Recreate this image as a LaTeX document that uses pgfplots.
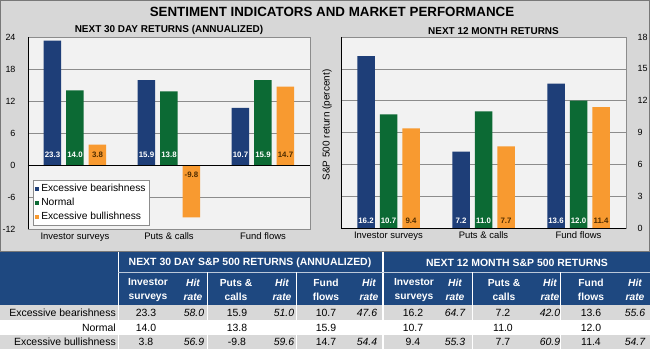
\documentclass[border=0pt]{standalone}
\usepackage{pgfplots}
\pgfplotsset{compat=1.18}
\usepackage{fontspec}
\setmainfont{Liberation Sans}
\definecolor{bgray}{RGB}{215,215,215}
\definecolor{pgray}{RGB}{242,242,242}
\definecolor{gridc}{RGB}{140,140,140}
\definecolor{cblue}{RGB}{30,62,120}
\definecolor{cgreen}{RGB}{12,106,52}
\definecolor{corange}{RGB}{248,154,48}
\definecolor{hblue}{RGB}{30,72,128}
\definecolor{rowgray}{RGB}{216,216,216}
\definecolor{olab}{RGB}{80,45,0}
\definecolor{framec}{RGB}{120,120,120}

\pgfplotsset{
  panel/.style={
    scale only axis,
    anchor=south west,
    xmin=-0.5, xmax=2.5,
    xtick={0,1,2},
    xticklabels={Investor surveys, Puts \& calls, Fund flows},
    major tick length=0pt,
    ymajorgrids,
    grid style={gridc, line width=0.5pt},
    axis background/.style={fill=pgray},
    axis line style={gridc, line width=0.6pt},
    ybar=5bp, bar width=17.5bp,
    /pgf/number format/assume math mode=true,
    tick label style={font=\fontsize{9}{10}\selectfont},
    xticklabel style={font=\fontsize{9.5}{11}\selectfont},
    title style={font=\bfseries\fontsize{10}{12}\selectfont, yshift=-7.5bp},
    visualization depends on={y \as \rawy},
    nodes near coords={\pgfmathprintnumber[fixed,fixed zerofill,precision=1,assume math mode=true]{\pgfplotspointmeta}},
    legend image code/.code={\fill[#1] (0bp,-2bp) rectangle (4bp,2bp);},
    clip=false,
  },
}

\begin{document}
\begin{tikzpicture}
\fill[bgray] (0,0) rectangle (650bp,-349bp);
\useasboundingbox (0,0) rectangle (650bp,-349bp);
\draw[framec, line width=0.8pt] (0.5bp,-0.5bp) rectangle (649.5bp,-251bp);
\node[font=\bfseries\fontsize{13.4}{15}\selectfont] at (332bp,-11.5bp) {SENTIMENT INDICATORS AND MARKET PERFORMANCE};

% Left panel
\begin{axis}[panel,
  at={(28bp,-229bp)}, width=282bp, height=192bp,
  ymin=-12, ymax=24, ytick={-12,-6,...,24},
  yticklabel style={xshift=-9bp},
  title={NEXT 30 DAY RETURNS (ANNUALIZED)},
  every node near coord/.append style={anchor=center, font=\bfseries\fontsize{7.9}{9}\selectfont,
     shift={(axis direction cs:0,{-1*(\rawy)})}, yshift={ifthenelse(\rawy<0,-10,10)}},
  legend style={at={(0.018,0.255)}, anchor=north west, fill=white, draw=gridc,
     font=\fontsize{10.3}{12}\selectfont, legend cell align=left, row sep=1bp, inner sep=2bp},
]
\addplot[fill=cblue, draw=none, every node near coord/.append style={text=white}] coordinates {(0,23.3) (1,15.9) (2,10.7)};
\addplot[fill=cgreen, draw=none, every node near coord/.append style={text=white}] coordinates {(0,14.0) (1,13.8) (2,15.9)};
\addplot[fill=corange, draw=none, every node near coord/.append style={text=olab}] coordinates {(0,3.8) (1,-9.8) (2,14.7)};
\legend{Excessive bearishness, Normal, Excessive bullishness}
\draw[black, line width=1pt] (rel axis cs:0,0) -- (rel axis cs:0,1);
\draw[black, line width=1pt] (axis cs:-0.5,0) -- (axis cs:2.5,0);
\end{axis}

% Right panel
\begin{axis}[panel,
  at={(341bp,-228bp)}, width=285bp, height=191bp,
  ymin=0, ymax=18, ytick={0,3,...,18},
  yticklabel pos=right,
  yticklabel style={xshift=8bp, anchor=west},
  title={NEXT 12 MONTH RETURNS},
  title style={xshift=10bp},
  every node near coord/.append style={anchor=center, font=\bfseries\fontsize{7.9}{9}\selectfont,
     shift={(axis direction cs:0,{-1*(\rawy)})}, yshift=7.5bp},
]
\addplot[fill=cblue, draw=none, every node near coord/.append style={text=white}] coordinates {(0,16.2) (1,7.2) (2,13.6)};
\addplot[fill=cgreen, draw=none, every node near coord/.append style={text=white}] coordinates {(0,10.7) (1,11.0) (2,12.0)};
\addplot[fill=corange, draw=none, every node near coord/.append style={text=olab}] coordinates {(0,9.4) (1,7.7) (2,11.4)};
\draw[black, line width=1pt] (rel axis cs:0,0) -- (rel axis cs:0,1);
\draw[black, line width=1pt] (rel axis cs:0,0) -- (rel axis cs:1,0);
\end{axis}

\node[rotate=90, font=\fontsize{10}{11}\selectfont] at (327bp,-125bp) {S\&P 500 return (percent)};

% Table
\begin{scope}[x=1bp, y={(0bp,-1bp)}]
\fill[hblue] (0,252) rectangle (650,305);
\fill[rowgray] (0,305) rectangle (650,320);
\fill[white] (0,320) rectangle (650,334.5);
\fill[rowgray] (0,334.5) rectangle (650,349);
\draw[white, line width=0.8pt] (118,252) -- (118,349);
\draw[white, line width=1.6pt] (383,252) -- (383,349);
\draw[white!70!hblue, line width=0.6pt] (118,272) -- (650,272);
\foreach \xx in {207,296,472,560} \draw[white, line width=0.8pt] (\xx,272) -- (\xx,349);
\begin{scope}[every node/.style={text=white, font=\bfseries\fontsize{10.5}{12}\selectfont}]
\node at (250,262.5) {NEXT 30 DAY S\&P 500 RETURNS (ANNUALIZED)};
\node at (517,262.5) {NEXT 12 MONTH S\&P 500 RETURNS};
\end{scope}
\begin{scope}[every node/.style={text=white, align=center, font=\bfseries\fontsize{10.3}{14}\selectfont}]
\node at (148,290) {Investor\\surveys};
\node at (236,290) {Puts \&\\calls};
\node at (326,290) {Fund\\flows};
\node at (414,290) {Investor\\surveys};
\node at (504,290) {Puts \&\\calls};
\node at (591,290) {Fund\\flows};
\node[font=\bfseries\itshape\fontsize{10.3}{14}\selectfont] at (193,290) {Hit\\rate};
\node[font=\bfseries\itshape\fontsize{10.3}{14}\selectfont] at (282,290) {Hit\\rate};
\node[font=\bfseries\itshape\fontsize{10.3}{14}\selectfont] at (369,290) {Hit\\rate};
\node[font=\bfseries\itshape\fontsize{10.3}{14}\selectfont] at (455,290) {Hit\\rate};
\node[font=\bfseries\itshape\fontsize{10.3}{14}\selectfont] at (550,290) {Hit\\rate};
\node[font=\bfseries\itshape\fontsize{10.3}{14}\selectfont] at (635,290) {Hit\\rate};
\end{scope}
\begin{scope}[every node/.style={font=\fontsize{10.5}{12}\selectfont, inner sep=0pt}]
\node[anchor=east] at (116,313) {Excessive bearishness};
\node[anchor=east] at (116,327.5) {Normal};
\node[anchor=east] at (116,342) {Excessive bullishness};
% row 1
\node at (146,313) {23.3}; \node[font=\itshape\fontsize{10.5}{12}\selectfont] at (194,313) {58.0};
\node at (237,313) {15.9}; \node[font=\itshape\fontsize{10.5}{12}\selectfont] at (284,313) {51.0};
\node at (326,313) {10.7}; \node[font=\itshape\fontsize{10.5}{12}\selectfont] at (367,313) {47.6};
\node at (413,313) {16.2}; \node[font=\itshape\fontsize{10.5}{12}\selectfont] at (455,313) {64.7};
\node at (503,313) {7.2};  \node[font=\itshape\fontsize{10.5}{12}\selectfont] at (550,313) {42.0};
\node at (591,313) {13.6}; \node[font=\itshape\fontsize{10.5}{12}\selectfont] at (635,313) {55.6};
% row 2
\node at (146,327.5) {14.0};
\node at (237,327.5) {13.8};
\node at (326,327.5) {15.9};
\node at (413,327.5) {10.7};
\node at (503,327.5) {11.0};
\node at (591,327.5) {12.0};
% row 3
\node at (146,342) {3.8};  \node[font=\itshape\fontsize{10.5}{12}\selectfont] at (194,342) {56.9};
\node at (237,342) {-9.8}; \node[font=\itshape\fontsize{10.5}{12}\selectfont] at (284,342) {59.6};
\node at (326,342) {14.7}; \node[font=\itshape\fontsize{10.5}{12}\selectfont] at (367,342) {54.4};
\node at (413,342) {9.4};  \node[font=\itshape\fontsize{10.5}{12}\selectfont] at (455,342) {55.3};
\node at (503,342) {7.7};  \node[font=\itshape\fontsize{10.5}{12}\selectfont] at (550,342) {60.9};
\node at (591,342) {11.4}; \node[font=\itshape\fontsize{10.5}{12}\selectfont] at (635,342) {54.7};
\end{scope}
\end{scope}
\end{tikzpicture}
\end{document}
